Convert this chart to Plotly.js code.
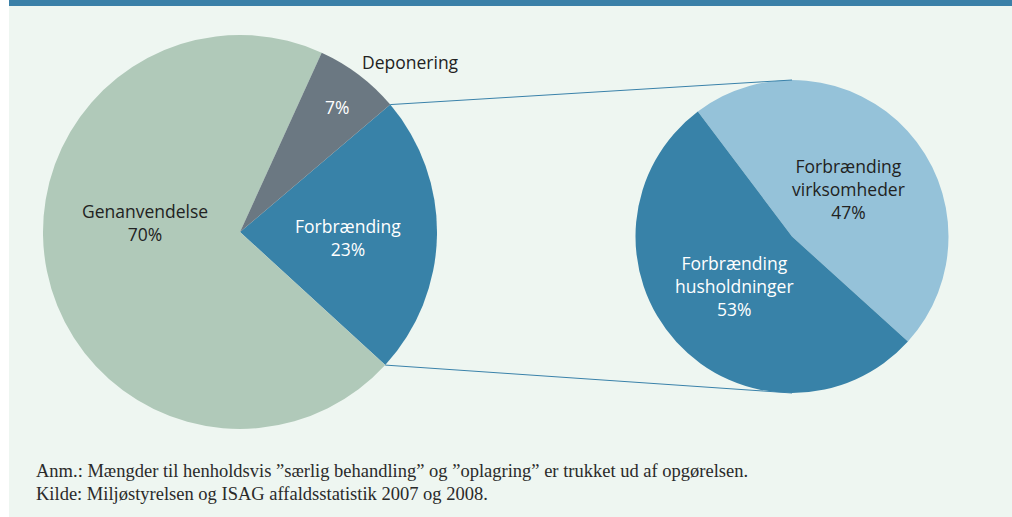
<!DOCTYPE html>
<html>
<head>
<meta charset="utf-8">
<script src="https://cdn.plot.ly/plotly-3.0.1.min.js"></script>
<style>html,body{margin:0;padding:0;background:#fff}#chart{width:1012px;height:517px}</style>
</head>
<body>
<div id="chart"></div>
<script>
// ---- data ----
const leftLabels = ['Forbrænding', 'Genanvendelse', 'Deponering'];
const leftValues = [23, 70, 7];
const rightLabels = ['Forbrænding<br>virksomheder', 'Forbrænding<br>husholdninger'];
const rightValues = [47, 53];
const noteLines = [
  'Anm.: Mængder til henholdsvis ”særlig behandling” og ”oplagring” er trukket ud af opgørelsen.',
  'Kilde: Miljøstyrelsen og ISAG affaldsstatistik 2007 og 2008.'
];

// ---- styles ----
const leftColors = ['#3882a8', '#b0c9b9', '#6b7882'];
const rightColors = ['#95c2d9', '#3882a8'];
const W = 1012, H = 517;
const L = {cx: 240, cy: 232, r: 197, rot: 49.7};
const R = {cx: 792, cy: 236.5, r: 156.5, rot: -37};

function dom(p) {
  return {x: [(p.cx - p.r) / W, (p.cx + p.r) / W], y: [1 - (p.cy + p.r) / H, 1 - (p.cy - p.r) / H]};
}
const px = x => x / W, py = y => 1 - y / H;

const total = leftValues.reduce((a, b) => a + b, 0);
const pct = (v, arr) => Math.round(100 * v / arr.reduce((a, b) => a + b, 0)) + '%';

const traces = [
  {type: 'pie', values: leftValues, labels: leftLabels, sort: false, direction: 'clockwise',
   rotation: L.rot, domain: dom(L), textinfo: 'none', hoverinfo: 'label+percent',
   marker: {colors: leftColors, line: {width: 0}}, showlegend: false},
  {type: 'pie', values: rightValues, labels: rightLabels, sort: false, direction: 'clockwise',
   rotation: R.rot, domain: dom(R), textinfo: 'none', hoverinfo: 'label+percent',
   marker: {colors: rightColors, line: {width: 0}}, showlegend: false}
];

// connector endpoints from slice geometry (Forbrænding = first slice of left pie)
const a0 = L.rot * Math.PI / 180;
const a1 = (L.rot + 360 * leftValues[0] / total) * Math.PI / 180;
const pA = [L.cx + L.r * Math.sin(a0), L.cy - L.r * Math.cos(a0)];
const pB = [L.cx + L.r * Math.sin(a1), L.cy - L.r * Math.cos(a1)];

const lineStyle = {color: '#3a82aa', width: 1};
const shapes = [
  {type: 'rect', xref: 'paper', yref: 'paper', x0: 0, x1: px(9), y0: 0, y1: 1, fillcolor: '#ffffff', line: {width: 0}, layer: 'below'},
  {type: 'rect', xref: 'paper', yref: 'paper', x0: px(9), x1: 1, y0: py(6), y1: 1, fillcolor: '#3a80a8', line: {width: 0}, layer: 'below'},
  {type: 'line', xref: 'paper', yref: 'paper', x0: px(pA[0]), y0: py(pA[1]), x1: px(R.cx), y1: py(R.cy - R.r), line: lineStyle},
  {type: 'line', xref: 'paper', yref: 'paper', x0: px(pB[0]), y0: py(pB[1]), x1: px(R.cx), y1: py(R.cy + R.r), line: lineStyle}
];

const sansDark = {family: 'Open Sans, sans-serif', size: 17.5, color: '#222222'};
const sansLight = {family: 'Open Sans, sans-serif', size: 17.5, color: '#ffffff'};
function ann(text, x, y, font, align) {
  return {text: text, xref: 'paper', yref: 'paper', x: px(x), y: py(y), xanchor: align || 'center', yanchor: 'middle',
          showarrow: false, font: font, align: align || 'center'};
}
const serif = {family: 'Liberation Serif, serif', size: 18.5, color: '#2a2a2a'};
const annotations = [
  ann(leftLabels[1] + '<br>' + pct(leftValues[1], leftValues), 145, 222, sansDark),
  ann(leftLabels[0] + '<br>' + pct(leftValues[0], leftValues), 348, 237, sansLight),
  ann(pct(leftValues[2], leftValues), 337, 107, sansLight),
  ann(leftLabels[2], 410, 62, sansDark),
  ann(rightLabels[0] + '<br>' + pct(rightValues[0], rightValues), 848, 189, sansDark),
  ann(rightLabels[1] + '<br>' + pct(rightValues[1], rightValues), 734, 286, sansLight),
  ann(noteLines[0], 34, 471, serif, 'left'),
  ann(noteLines[1], 34, 494, serif, 'left')
];

Plotly.newPlot('chart', traces, {
  width: W, height: H, margin: {l: 0, r: 0, t: 0, b: 0},
  paper_bgcolor: '#eef6f1', plot_bgcolor: '#eef6f1',
  shapes: shapes, annotations: annotations, showlegend: false
}, {displayModeBar: false, staticPlot: true});
</script>
</body>
</html>
